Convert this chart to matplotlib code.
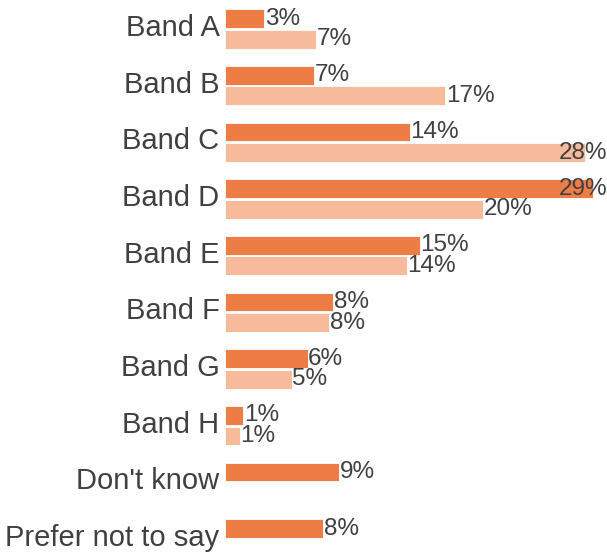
import matplotlib
matplotlib.use("Agg")
import matplotlib.pyplot as plt
from matplotlib.transforms import ScaledTranslation
import numpy as np

# categories and the two series (percent)
categories = ["Band A", "Band B", "Band C", "Band D", "Band E", "Band F",
              "Band G", "Band H", "Don't know", "Prefer not to say"]
series_1 = [3.07, 6.98, 14.45, 28.75, 15.23, 8.45, 6.45, 1.43, 8.9, 7.66]
series_2 = [7.11, 17.19, 28.1, 20.16, 14.2, 8.13, 5.21, 1.17, None, None]

dark = '#EE7D45'
light = '#F7BB9B'
text_col = '#404040'

plt.rcParams['font.family'] = ['Liberation Sans', 'DejaVu Sans']

fig = plt.figure(figsize=(6.07, 5.53), dpi=100)
ax = fig.add_axes([225 / 607, 0, 382 / 607, 1])

y = np.arange(len(categories))
h = 0.33
off = 0.18
xmax = 29.84

for i, (v1, v2) in enumerate(zip(series_1, series_2)):
    for v, col, dy in ((v1, dark, -off), (v2, light, off)):
        if v is None:
            continue
        ax.barh(y[i] + dy, v, height=h, color=col, edgecolor='white', linewidth=0.6)
        lab = f"{round(v)}%"
        # labels that would run off the edge are pulled back inside
        if v > 26:
            ax.text(xmax + 0.05, y[i] + dy, lab, ha='right', va='center',
                    fontsize=17.5, color=text_col)
        else:
            ax.text(v + 0.05, y[i] + dy, lab, ha='left', va='center',
                    fontsize=17.5, color=text_col)

ax.set_xlim(0, xmax)
ax.set_ylim(len(categories) - 1 + 0.247, -0.511)
ax.set_yticks(y)
ax.set_yticklabels(categories, fontsize=21, color=text_col)
ax.tick_params(axis='y', length=0, pad=4)
# nudge the category labels up a little
shift = ScaledTranslation(0, 0.04, fig.dpi_scale_trans)
for t in ax.get_yticklabels():
    t.set_transform(t.get_transform() + shift)
ax.set_xticks([])
for s in ax.spines.values():
    s.set_visible(False)

fig.savefig("out.png", dpi=100)
